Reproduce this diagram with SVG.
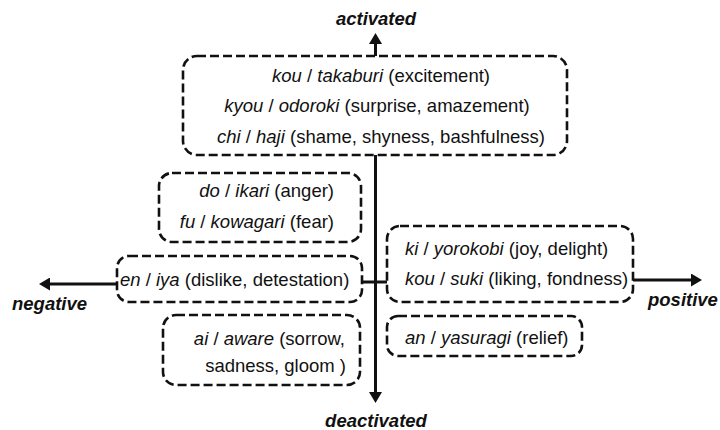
<svg xmlns="http://www.w3.org/2000/svg" width="720" height="430" viewBox="0 0 720 430">
<style>
.box{fill:#fff;stroke:#111;stroke-width:2.6;stroke-dasharray:9 4}
.ax{stroke:#111;stroke-width:3;fill:none}
.t{font-family:"Liberation Sans",Arial,sans-serif;font-size:18.5px;fill:#111}
.i{font-style:italic}
.lab{font-family:"Liberation Sans",Arial,sans-serif;font-size:18.5px;font-weight:bold;font-style:italic;fill:#111}
</style>
<defs>
<marker id="ah" viewBox="0 0 11 13" refX="1" refY="6.5" markerWidth="11" markerHeight="13" markerUnits="userSpaceOnUse" orient="auto-start-reverse">
<path d="M0,0 L11,6.5 L0,13 z" fill="#111"/>
</marker>
</defs>
<g id="connectors">
<line class="ax" x1="375.5" y1="43" x2="375.5" y2="393" marker-start="url(#ah)" marker-end="url(#ah)"/>
<line class="ax" x1="117" y1="284" x2="49" y2="284" marker-end="url(#ah)"/>
<line class="ax" x1="362" y1="282" x2="388" y2="282"/>
<line class="ax" x1="633" y1="280" x2="692" y2="280" marker-end="url(#ah)"/>
</g>
<g id="label-activated"><text class="lab" x="376" y="25" text-anchor="middle">activated</text></g>
<g id="label-deactivated"><text class="lab" x="376" y="427" text-anchor="middle">deactivated</text></g>
<g id="label-negative"><text class="lab" x="12" y="310">negative</text></g>
<g id="label-positive"><text class="lab" x="648" y="306">positive</text></g>
<g id="node-top">
<rect class="box" x="183" y="56" width="384" height="99" rx="14"/>
<text class="t" x="381" y="82" text-anchor="middle"><tspan class="i">kou</tspan> / <tspan class="i">takaburi</tspan> (excitement)</text>
<text class="t" x="377" y="112" text-anchor="middle"><tspan class="i">kyou</tspan> / <tspan class="i">odoroki</tspan> (surprise, amazement)</text>
<text class="t" x="381" y="143" text-anchor="middle"><tspan class="i">chi</tspan> / <tspan class="i">haji</tspan> (shame, shyness, bashfulness)</text>
</g>
<g id="node-anger-fear">
<rect class="box" x="159" y="173" width="202" height="69" rx="13"/>
<text class="t" x="334" y="197" text-anchor="end"><tspan class="i">do</tspan> / <tspan class="i">ikari</tspan> (anger)</text>
<text class="t" x="334" y="228" text-anchor="end"><tspan class="i">fu</tspan> / <tspan class="i">kowagari</tspan> (fear)</text>
</g>
<g id="node-dislike">
<rect class="box" x="117" y="256" width="245" height="46" rx="12"/>
<text class="t" x="120" y="286"><tspan class="i">en</tspan> / <tspan class="i">iya</tspan> (dislike, detestation)</text>
</g>
<g id="node-sorrow">
<rect class="box" x="163" y="315" width="197" height="70" rx="13"/>
<text class="t" x="345" y="345" text-anchor="end"><tspan class="i">ai</tspan> / <tspan class="i">aware</tspan> (sorrow,</text>
<text class="t" x="346" y="372" text-anchor="end">sadness, gloom )</text>
</g>
<g id="node-joy">
<rect class="box" x="387" y="226" width="246" height="76" rx="13"/>
<text class="t" x="405" y="255"><tspan class="i">ki</tspan> / <tspan class="i">yorokobi</tspan> (joy, delight)</text>
<text class="t" x="405" y="285"><tspan class="i">kou</tspan> / <tspan class="i">suki</tspan> (liking, fondness)</text>
</g>
<g id="node-relief">
<rect class="box" x="387" y="316" width="195" height="40" rx="11"/>
<text class="t" x="405" y="344"><tspan class="i">an</tspan> / <tspan class="i">yasuragi</tspan> (relief)</text>
</g>
</svg>
